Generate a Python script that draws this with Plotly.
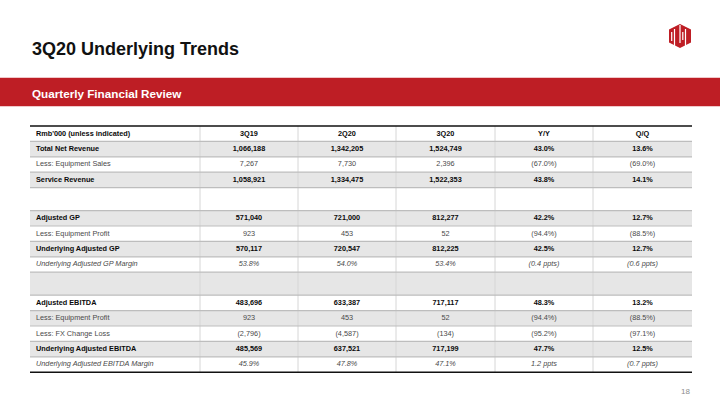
import plotly.graph_objects as go

# ---------------- data ----------------
title_text = "3Q20 Underlying Trends"
band_text = "Quarterly Financial Review"
page_no = "18"

header_label = "Rmb'000 (unless indicated)"
columns = ["3Q19", "2Q20", "3Q20", "Y/Y", "Q/Q"]

row_labels = ["Total Net Revenue", "Less: Equipment Sales", "Service Revenue", "",
              "Adjusted GP", "Less: Equipment Profit", "Underlying Adjusted GP",
              "Underlying Adjusted GP Margin", "",
              "Adjusted EBITDA", "Less: Equipment Profit", "Less: FX Change Loss",
              "Underlying Adjusted EBITDA", "Underlying Adjusted EBITDA Margin"]
row_styles = ["bold", "normal", "bold", "blank",
              "bold", "normal", "bold", "italic", "blank",
              "bold", "normal", "normal", "bold", "italic"]

val_3q19 = ["1,066,188", "7,267", "1,058,921", "", "571,040", "923", "570,117", "53.8%", "",
            "483,696", "923", "(2,796)", "485,569", "45.9%"]
val_2q20 = ["1,342,205", "7,730", "1,334,475", "", "721,000", "453", "720,547", "54.0%", "",
            "633,387", "453", "(4,587)", "637,521", "47.8%"]
val_3q20 = ["1,524,749", "2,396", "1,522,353", "", "812,277", "52", "812,225", "53.4%", "",
            "717,117", "52", "(134)", "717,199", "47.1%"]
val_yy = ["43.0%", "(67.0%)", "43.8%", "", "42.2%", "(94.4%)", "42.5%", "(0.4 ppts)", "",
          "48.3%", "(94.4%)", "(95.2%)", "47.7%", "1.2 ppts"]
val_qq = ["13.6%", "(69.0%)", "14.1%", "", "12.7%", "(88.5%)", "12.7%", "(0.6 ppts)", "",
          "13.2%", "(88.5%)", "(97.1%)", "12.5%", "(0.7 ppts)"]
col_values = [val_3q19, val_2q20, val_3q20, val_yy, val_qq]

# ---------------- layout constants ----------------
W, H = 720, 405
FONT = "Liberation Sans, Arial, Helvetica, sans-serif"
RED = "#be1e25"
col_edges = [30, 200, 298, 396, 495, 593, 692]
table_top = 126
row_h = 15.4
blank_h = 23
fs = 7.3

def styled(t, s):
    if not t:
        return t
    if s == "bold":
        return "<b>" + t + "</b>"
    if s == "italic":
        return "<i>" + t + "</i>"
    return t

def color_of(s):
    return "#0a0a0a" if s == "bold" else "#4a4a4a"

# row geometry
row_tops, row_bots = [], []
y = table_top + row_h  # after header
for s in row_styles:
    h = blank_h if s == "blank" else row_h
    row_tops.append(y)
    row_bots.append(y + h)
    y += h
table_bottom = y
row_mid = [(a + b) / 2 for a, b in zip(row_tops, row_bots)]
header_mid = table_top + row_h / 2
col_mid = [(col_edges[i] + col_edges[i + 1]) / 2 for i in range(len(col_edges) - 1)]

fig = go.Figure()
shapes = []

# row shading (alternating)
for i in range(len(row_styles)):
    if i % 2 == 0:
        shapes.append(dict(type="rect", xref="x", yref="y", x0=col_edges[0], x1=col_edges[-1],
                           y0=row_tops[i], y1=row_bots[i], fillcolor="#e6e6e6",
                           line=dict(width=0), layer="below"))

# vertical dividers
for xe in col_edges[1:-1]:
    shapes.append(dict(type="line", xref="x", yref="y", x0=xe, x1=xe, y0=table_top,
                       y1=table_bottom, line=dict(color="#d6d6d6", width=1)))

# horizontal lines
for yb in [table_top + row_h] + row_bots[:-1]:
    shapes.append(dict(type="line", xref="x", yref="y", x0=col_edges[0], x1=col_edges[-1],
                       y0=yb, y1=yb, line=dict(color="#bdbdbd", width=1.2)))
for yb in [table_top, table_bottom]:
    shapes.append(dict(type="line", xref="x", yref="y", x0=col_edges[0], x1=col_edges[-1],
                       y0=yb, y1=yb, line=dict(color="#111111", width=1.5)))

# red band
shapes.append(dict(type="rect", xref="paper", yref="y", x0=0, x1=1, y0=77, y1=107,
                   fillcolor="#f0c8ca", line=dict(width=0), layer="below"))
shapes.append(dict(type="rect", xref="paper", yref="y", x0=0, x1=1, y0=78, y1=106,
                   fillcolor=RED, line=dict(width=0), layer="below"))

# logo (stylised hexagon)
lx, ly = 680, 36
hexpath = (f"M {lx} {ly-12} L {lx+11} {ly-6.5} L {lx+11} {ly+6.5} L {lx} {ly+12} "
           f"L {lx-11} {ly+6.5} L {lx-11} {ly-6.5} Z")
shapes.append(dict(type="path", xref="x", yref="y", path=hexpath, fillcolor=RED,
                   line=dict(width=0)))
for dx, y0, y1 in [(-5.5, -7, 10), (0, -11, 7), (5.5, -7, 10), (-8.3, -4, 5), (2.8, -4, 4)]:
    shapes.append(dict(type="line", xref="x", yref="y", x0=lx + dx, x1=lx + dx,
                       y0=ly + y0, y1=ly + y1, line=dict(color="white", width=1.2)))

# label column
fig.add_trace(go.Scatter(
    x=[col_edges[0] + 6] * (len(row_labels) + 1),
    y=[header_mid] + row_mid,
    text=["<b>" + header_label + "</b>"] + [styled(t, s) for t, s in zip(row_labels, row_styles)],
    mode="text", textposition="middle right",
    textfont=dict(family=FONT, size=fs, color=["#0a0a0a"] + [color_of(s) for s in row_styles]),
    hoverinfo="skip", showlegend=False))

# value columns
for ci, vals in enumerate(col_values):
    fig.add_trace(go.Scatter(
        x=[col_mid[ci + 1]] * (len(vals) + 1),
        y=[header_mid] + row_mid,
        text=["<b>" + columns[ci] + "</b>"] + [styled(t, s) for t, s in zip(vals, row_styles)],
        mode="text", textposition="middle center",
        textfont=dict(family=FONT, size=fs, color=["#0a0a0a"] + [color_of(s) for s in row_styles]),
        hoverinfo="skip", showlegend=False))

annotations = [
    dict(text="<b>" + title_text + "</b>", x=30, y=49, xref="x", yref="y", xanchor="left",
         yanchor="middle", showarrow=False, font=dict(family=FONT, size=18, color="#111111")),
    dict(text="<b>" + band_text + "</b>", x=30, y=93, xref="x", yref="y", xanchor="left",
         yanchor="middle", showarrow=False, font=dict(family=FONT, size=11.7, color="white")),
    dict(text=page_no, x=692, y=391, xref="x", yref="y", xanchor="right",
         yanchor="middle", showarrow=False, font=dict(family=FONT, size=8, color="#8c8c8c")),
]

fig.update_layout(
    width=W, height=H, margin=dict(l=0, r=0, t=0, b=0),
    paper_bgcolor="white", plot_bgcolor="white",
    xaxis=dict(range=[0, W], visible=False, fixedrange=True),
    yaxis=dict(range=[H, 0], visible=False, fixedrange=True),
    shapes=shapes, annotations=annotations, showlegend=False,
)

fig.write_html("out.html", config={"displayModeBar": False},
               post_script="document.body.style.margin='0';document.body.style.overflow='hidden';")
